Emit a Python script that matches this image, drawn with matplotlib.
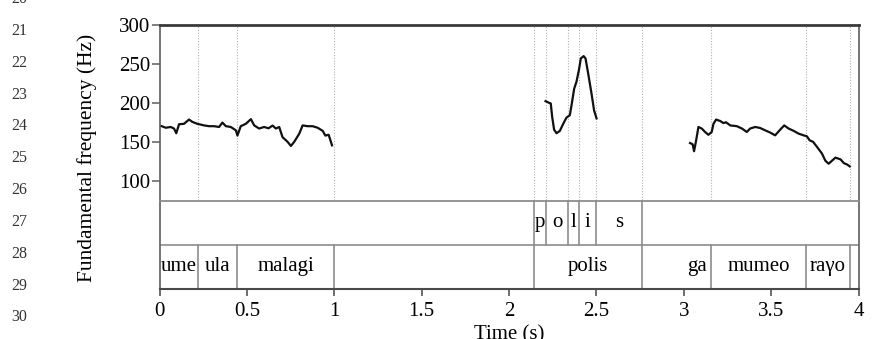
import matplotlib
matplotlib.use("Agg")
import matplotlib.pyplot as plt

plt.rcParams['font.family'] = ['Liberation Serif', 'DejaVu Serif']

# F0 contour, phrase 1: "ume ula malagi"
t_seg1 = [0.013, 0.036, 0.064, 0.083, 0.096, 0.112, 0.140, 0.169, 0.188, 0.217,
          0.255, 0.284, 0.312, 0.341, 0.360, 0.380, 0.408, 0.437, 0.446, 0.465,
          0.494, 0.523, 0.542, 0.570, 0.599, 0.624, 0.647, 0.666, 0.685, 0.704,
          0.733, 0.752, 0.771, 0.800, 0.819, 0.847, 0.876, 0.905, 0.934, 0.949,
          0.968, 0.978, 0.987]
f_seg1 = [170, 168, 169, 167, 161, 172.5, 173, 178.5, 175.5, 173,
          171, 170, 170, 169, 174.6, 170, 169, 164.7, 158, 170,
          173, 179, 171, 167, 169, 167.3, 170.8, 167, 169, 156,
          150, 144.7, 150, 160.5, 171, 170, 170, 168, 164, 158,
          159, 152, 145.5]

# F0 contour, phrase 2: "polis"
t_seg2 = [2.209, 2.228, 2.239, 2.247, 2.258, 2.272, 2.291, 2.310, 2.329, 2.348,
          2.358, 2.373, 2.386, 2.400, 2.411, 2.427, 2.438, 2.453, 2.472, 2.487,
          2.501]
f_seg2 = [202, 200, 199, 182, 165.6, 161, 164, 173, 181, 184,
          197, 218, 226.7, 241.7, 256.6, 259.6, 256.6, 237.4, 212, 190,
          180]

# F0 contour, phrase 3: "ga mumeo raγo"
t_seg3 = [3.036, 3.051, 3.059, 3.071, 3.084, 3.103, 3.122, 3.141, 3.160, 3.170,
          3.185, 3.208, 3.227, 3.242, 3.266, 3.304, 3.333, 3.361, 3.380, 3.409,
          3.437, 3.466, 3.495, 3.523, 3.552, 3.575, 3.600, 3.629, 3.657, 3.686,
          3.705, 3.720, 3.740, 3.763, 3.791, 3.810, 3.829, 3.849, 3.868, 3.897,
          3.916, 3.935, 3.950]
f_seg3 = [148.5, 146.8, 138, 152, 169, 167, 162.6, 159, 162.6, 173,
          178.5, 176.7, 174, 175, 171, 170, 167, 162.6, 167, 169,
          167.7, 164.7, 161.8, 158.3, 165.6, 171, 167, 164, 160.5, 158.3,
          157, 152, 150, 143.4, 135, 126, 122, 126, 129.8, 127.6,
          122.8, 121, 118.6]

# Annotation tiers: (label, start, end)
phone_tier = [("p", 2.143, 2.214), ("o", 2.214, 2.335), ("l", 2.335, 2.401),
              ("i", 2.401, 2.497), ("s", 2.497, 2.763)]
word_tier = [("ume", 0.0, 0.22), ("ula", 0.22, 0.446), ("malagi", 0.446, 1.0),
             ("polis", 2.143, 2.763), ("ga", 3.0, 3.157),
             ("mumeo", 3.157, 3.70), ("raγo", 3.70, 3.949)]
word_bounds = [0.22, 0.446, 1.0, 2.143, 2.763, 3.157, 3.70, 3.949]
phone_bounds = [2.143, 2.214, 2.335, 2.401, 2.497, 2.763]

x_ticks = [0, 0.5, 1, 1.5, 2, 2.5, 3, 3.5, 4]
x_tick_labels = ["0", "0.5", "1", "1.5", "2", "2.5", "3", "3.5", "4"]
y_ticks = [100, 150, 200, 250, 300]
line_numbers = list(range(20, 31))

W, H = 874, 339
fig = plt.figure(figsize=(W / 100, H / 100), dpi=100)

x_left, x_right = 159.5, 858.5
y_top, y_mid, y_bot = 24.5, 200.5, 288.5


def frac_box(x0, x1, ytop, ybot):
    return [x0 / W, 1 - ybot / H, (x1 - x0) / W, (ybot - ytop) / H]


ax = fig.add_axes(frac_box(x_left, x_right, y_top, y_mid))
ax_t = fig.add_axes(frac_box(x_left, x_right, y_mid, y_bot))

axis_grey = '#6a6a6a'
tier_grey = '#8c8c8c'
font_size = 15

# F0 panel
for t, f in ((t_seg1, f_seg1), (t_seg2, f_seg2), (t_seg3, f_seg3)):
    ax.plot(t, f, color='#111111', lw=1.6, solid_joinstyle='round', zorder=3)
for b in sorted(set(word_bounds + phone_bounds)):
    ax.axvline(b, color='#b0b0b0', lw=0.8, ls=(0, (1, 1.5)), zorder=1)

ax.set_xlim(0, 4)
ax.set_ylim(75, 300)
ax.set_yticks(y_ticks)
ax.set_yticklabels([str(v) for v in y_ticks], fontsize=font_size)
ax.set_xticks([])
ax.tick_params(axis='y', direction='out', length=6, width=1.2,
               color=axis_grey, pad=0.5)
ax.spines['top'].set_color('#3a3a3a')
ax.spines['top'].set_linewidth(2.0)
for s in ('left', 'right'):
    ax.spines[s].set_color(axis_grey)
    ax.spines[s].set_linewidth(1.3)
ax.spines['bottom'].set_visible(False)

# Tier panel
ax_t.set_xlim(0, 4)
ax_t.set_ylim(0, 2)
ax_t.axhline(1, color=tier_grey, lw=1.2)
for b in word_bounds:
    ax_t.plot([b, b], [0, 1], color=tier_grey, lw=1.2)
for b in phone_bounds:
    ax_t.plot([b, b], [1, 2], color=tier_grey, lw=1.2)
for lab, s, e in phone_tier:
    ax_t.text((s + e) / 2, 1.5, lab, ha='center', va='center', fontsize=font_size)
for lab, s, e in word_tier:
    ax_t.text((s + e) / 2, 0.5, lab, ha='center', va='center', fontsize=font_size)

ax_t.set_yticks([])
ax_t.set_xticks(x_ticks)
ax_t.set_xticklabels(x_tick_labels, fontsize=font_size)
ax_t.tick_params(axis='x', direction='out', length=5, width=1.2,
                 color='#555555', pad=5)
ax_t.spines['top'].set_color(tier_grey)
ax_t.spines['top'].set_linewidth(1.3)
ax_t.spines['bottom'].set_color('#4a4a4a')
ax_t.spines['bottom'].set_linewidth(1.5)
for s in ('left', 'right'):
    ax_t.spines[s].set_color(axis_grey)
    ax_t.spines[s].set_linewidth(1.3)

fig.text(87 / W, 1 - 158 / H, "Fundamental frequency (Hz)", rotation=90,
         ha='center', va='center', fontsize=15.5)
fig.text((x_left + x_right) / 2 / W, 1 - 335 / H, "Time (s)",
         ha='center', va='center', fontsize=font_size)

# Manuscript line numbers in the margin
for i, n in enumerate(line_numbers):
    fig.text(19 / W, 1 - (-0.7 + 31.8 * i) / H, str(n), ha='center',
             va='center', fontsize=11.5, color='#333333')

fig.savefig("out.png", dpi=100)
